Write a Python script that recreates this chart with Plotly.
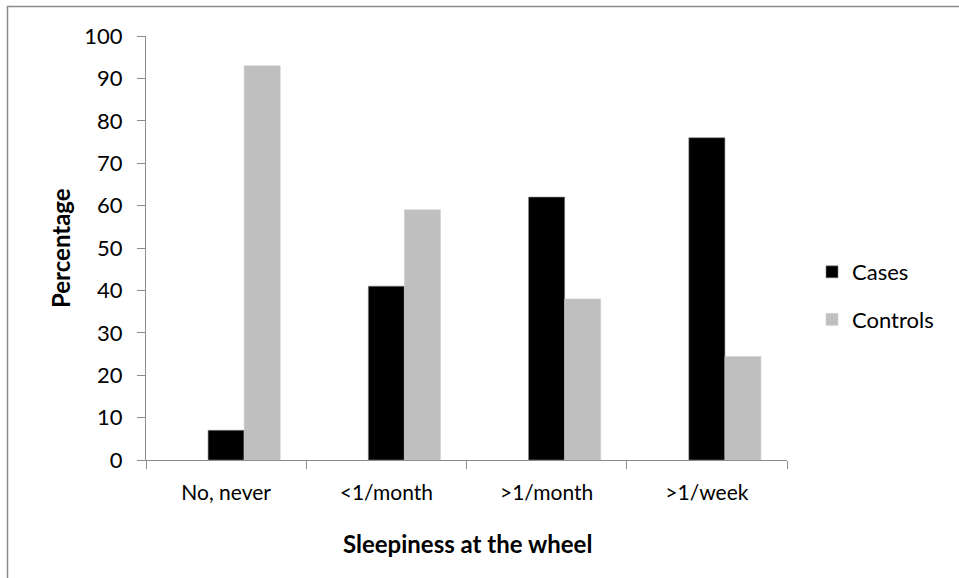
import plotly.graph_objects as go

categories = ["No, never", "<1/month", ">1/month", ">1/week"]
cases = [7, 41, 62, 76]
controls = [93, 59, 38, 24.4]
y_ticks = list(range(0, 101, 10))

W, H = 959, 578
L, R, T, B = 146, 787, 36, 460  # plot area in pixels

def px_x(x):
    return (x - L) / (R - L)

def px_y(y):
    return (B - y) / (B - T)

FONT = "Lato, 'Open Sans', sans-serif"
AX = "#8c8c8c"

# Excel-style layout: bars sit right of centre (room for an empty first series)
BAR_W = 0.225

fig = go.Figure()
fig.add_bar(x=categories, y=cases, name="Cases", marker_color="#000000",
            marker_line=dict(color="#7f7f7f", width=0.6), legendgroup="a",
            width=BAR_W, offset=-0.1125)
fig.add_bar(x=categories, y=controls, name="Controls", marker_color="#bfbfbf",
            marker_line=dict(color="#d0d0d0", width=0.6), legendgroup="b",
            width=BAR_W, offset=0.1125)

fig.update_layout(
    width=W, height=H,
    margin=dict(l=L, r=W - R, t=T, b=H - B, pad=0),
    paper_bgcolor="white", plot_bgcolor="white",
    barmode="overlay",
    font=dict(family=FONT, size=22, color="black"),
    showlegend=True,
    legend=dict(x=px_x(812), y=px_y(251), xanchor="left", yanchor="top",
                font=dict(size=22), tracegroupgap=16, bgcolor="rgba(0,0,0,0)"),
    xaxis=dict(type="category", showline=True, linecolor=AX, linewidth=1,
               ticks="outside", tickson="boundaries", ticklen=8, tickcolor=AX,
               showgrid=False, tickfont=dict(size=21), zeroline=False,
               ticklabelstandoff=14, range=[-0.5, 3.5]),
    yaxis=dict(range=[0, 100], tickvals=y_ticks, showline=True, linecolor=AX,
               linewidth=1, ticks="outside", ticklen=8, tickcolor=AX,
               showgrid=False, zeroline=False, tickfont=dict(size=22),
               ticklabelstandoff=10),
    annotations=[
        dict(text="<b>Percentage</b>", xref="paper", yref="paper",
             x=px_x(60), y=px_y(248), textangle=-90, showarrow=False,
             font=dict(size=24), xanchor="center", yanchor="middle"),
        dict(text="<b>Sleepiness at the wheel</b>", xref="paper", yref="paper",
             x=px_x(467), y=px_y(543), showarrow=False,
             font=dict(size=24), xanchor="center", yanchor="middle"),
    ],
    shapes=[dict(type="rect", xref="paper", yref="paper",
                 x0=px_x(7.5), x1=px_x(1000), y0=px_y(620), y1=px_y(6.5),
                 line=dict(color="#8a8a8a", width=1.5), layer="below")],
)

fig.write_html("out.html", config={"displayModeBar": False},
               post_script="document.body.style.margin='0';document.body.style.overflow='hidden';")
